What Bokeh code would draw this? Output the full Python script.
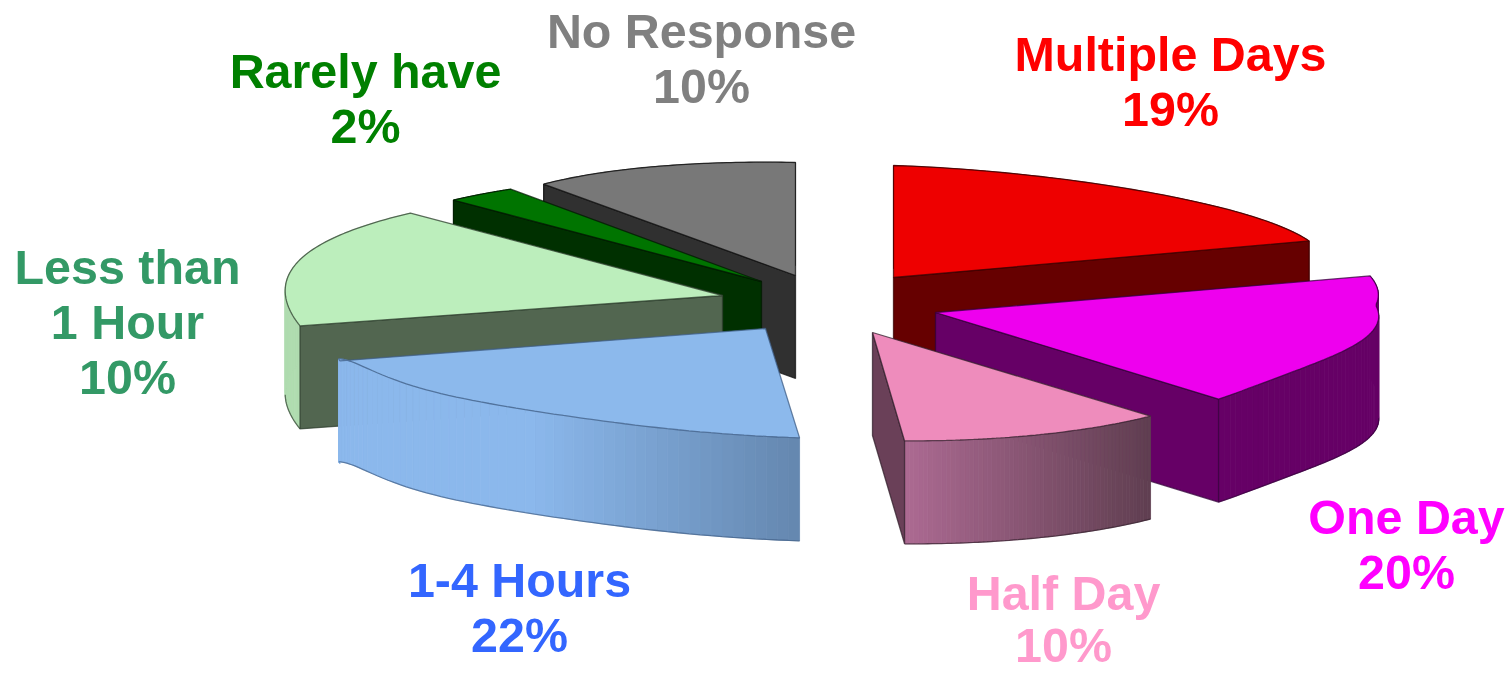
import numpy as np
from bokeh.embed import file_html
from bokeh.models import ColumnDataSource, Range1d
from bokeh.plotting import figure
from bokeh.resources import INLINE
from bokeh.core.properties import value

# Survey answers, clockwise from twelve o'clock
categories = ["Multiple Days", "One Day", "Half Day", "1-4 Hours",
              "Less than 1 Hour", "Rarely have", "No Response"]
shares = [19, 20, 10, 22, 10, 2, 10]

# Label layout: text lines above the percentage, centre x, first line's y, line spacing
label_lines = [["Multiple Days"], ["One Day"], ["Half Day"], ["1-4 Hours"],
               ["Less than", "1 Hour"], ["Rarely have"], ["No Response"]]
label_x = [1170, 1406, 1063, 519, 127, 365, 701]
label_y = [53, 516, 592, 579, 266, 70, 30]
label_step = [55, 55, 52, 55, 55, 55, 55]
label_colors = ["#FF0000", "#FF00FF", "#FF99CC", "#3366FF", "#339966", "#008000", "#808080"]
FONT_SIZE = "48.4px"

# Slice styling
top_colors = ["#EE0000", "#EE00EE", "#EE8CBC", "#8CB9EC", "#BCEEBC", "#007400", "#787878"]
side_colors = ["#660000", "#660066", "#6A4058", "#8CB9EC", "#526650", "#003000", "#303030"]
rim_colors = ["#660000", "#660066", None, None, "#B0DCB0", "#003000", "#303030"]
edge_colors = ["#3A0000", "#33003A", "#33202C", "#3F5E86", "#2F3F2F", "#001A00", "#101010"]

# Where each exploded slice's point sits on the page
apex_x = [893, 935, 872, 765, 722, 761, 795]
apex_y = [277, 312, 332, 328, 295, 281, 275]

# Which cut of each slice shows a flat wall
visible_wall = ["end", "end", "end", None, "start", "start", "start"]

# Tilted-disc projection
RADIUS_X = 425
RADIUS_Y = 115
DEPTH = 103
SHEAR = 105
SAG = 40

# Per-slice rim adjustments: offset at the first and last rim point, mid-rim bulge
start_trim = [(0, 3), (27, -4), (-20, -17), (2, -4), (1, 1), (0, -8), (14, -4)]
end_trim = [(8, -4), (-15, -14), (0, -5), (-2, 3), (-4, -9), (15, -5), (0, 2)]
bulge = [(0, 8), (-20, -8), (0, 0), (0, -20), (-36, -5), (0, 0), (0, 0)]
bulge_skew = [1, 2, 1, 4, 1, 1, 1]


def lerp_rgb(a, b, f):
    return "#%02X%02X%02X" % tuple(int(round(a[i] + (b[i] - a[i]) * f)) for i in range(3))


def rim_shade_1_4(x):
    f = np.clip((x - 530) / 270, 0, 1)
    return lerp_rgb((139, 184, 236), (100, 135, 175), f)


def rim_shade_half_day(x):
    f = np.clip((x - 905) / 247, 0, 1)
    return lerp_rgb((172, 106, 146), (95, 62, 80), f)


rim_shades = {2: rim_shade_half_day, 3: rim_shade_1_4}

edges = np.concatenate([[0], np.cumsum(shares)]) / sum(shares) * 360


def rim_points(i, n=60):
    t = np.linspace(0, 1, n)
    th = np.radians(edges[i] + (edges[i + 1] - edges[i]) * t)
    s, c = np.sin(th), np.cos(th)
    x = RADIUS_X * s + SHEAR * np.maximum(0, -c)
    y = -RADIUS_Y * c + SAG * np.maximum(0, -s) ** 6
    x = x + start_trim[i][0] * (1 - t) + end_trim[i][0] * t
    y = y + start_trim[i][1] * (1 - t) + end_trim[i][1] * t
    w = np.sin(np.pi * t ** bulge_skew[i])
    x = x + bulge[i][0] * w
    y = y + bulge[i][1] * w
    return apex_x[i] + x, apex_y[i] + y


p = figure(width=1512, height=674, output_backend="svg", toolbar_location=None,
           x_range=Range1d(0, 1512), y_range=Range1d(674, 0),
           min_border=0, outline_line_color=None)
p.axis.visible = False
p.grid.visible = False


def add_poly(xs, ys, fill, line, line_width=1.3, line_alpha=0.75):
    src = ColumnDataSource(dict(xs=[list(xs)], ys=[list(ys)]))
    p.patches("xs", "ys", source=src, fill_color=fill, line_color=line,
              line_width=line_width, line_alpha=line_alpha)


def draw_slice(i):
    rx, ry = rim_points(i)
    ax, ay = apex_x[i], apex_y[i]
    # Curved outer wall as strips, shaded along x on the slices that carry a gradient
    shade = rim_shades.get(i)
    for k in range(len(rx) - 1):
        fill = shade((rx[k] + rx[k + 1]) / 2) if shade else rim_colors[i]
        add_poly([rx[k], rx[k + 1], rx[k + 1], rx[k]],
                 [ry[k], ry[k + 1], ry[k + 1] + DEPTH, ry[k] + DEPTH],
                 fill, fill, 0.8, 1)
    # Lower rim line, only along the stretch that faces the viewer
    mid = (edges[i] + edges[i + 1]) / 2
    if mid > 180:
        front = slice(0, int(np.argmin(rx)) + 1)
    else:
        front = slice(int(np.argmax(rx)), None)
    src = ColumnDataSource(dict(x=rx[front], y=(ry + DEPTH)[front]))
    p.line("x", "y", source=src, line_color=edge_colors[i], line_width=1.3, line_alpha=0.7)
    # Flat wall under the cut that faces the viewer
    if visible_wall[i]:
        j = 0 if visible_wall[i] == "start" else -1
        add_poly([ax, rx[j], rx[j], ax], [ay, ry[j], ry[j] + DEPTH, ay + DEPTH],
                 side_colors[i], edge_colors[i])
    # Upper face
    add_poly(np.concatenate([[ax], rx]), np.concatenate([[ay], ry]), top_colors[i], edge_colors[i])


# Back slices first so nearer ones overlap them
for i in [6, 5, 0, 4, 1, 3, 2]:
    draw_slice(i)

# Labels: category name lines followed by the share
for i, lines in enumerate(label_lines):
    rows = lines + [f"{shares[i]}%"]
    src = ColumnDataSource(dict(x=[label_x[i]] * len(rows),
                                y=[label_y[i] + label_step[i] * k for k in range(len(rows))],
                                text=rows))
    p.text("x", "y", text="text", source=src, text_color=label_colors[i],
           text_font=value("Liberation Sans"), text_font_style="bold",
           text_font_size=FONT_SIZE, text_align="center", text_baseline="middle")

open("out.html", "w").write(file_html(p, INLINE))
